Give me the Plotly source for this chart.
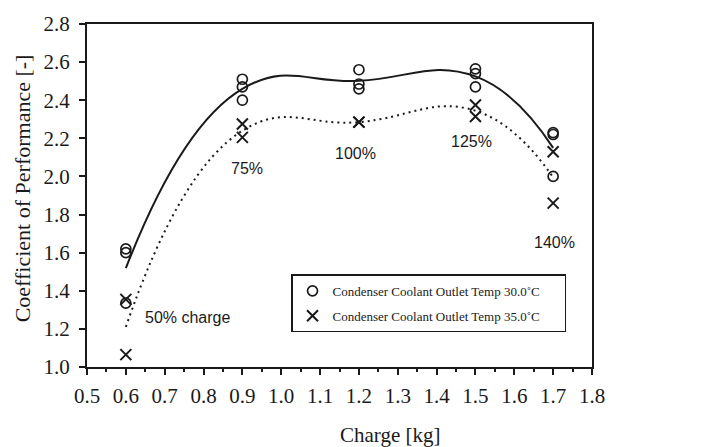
import plotly.graph_objects as go
import numpy as np

# Measured COP values per refrigerant charge, two condenser coolant outlet temperatures
charge_30 = [0.6, 0.6, 0.6, 0.9, 0.9, 0.9, 1.2, 1.2, 1.2, 1.5, 1.5, 1.5, 1.7, 1.7, 1.7]
cop_30 = [1.62, 1.60, 1.335, 2.51, 2.47, 2.40, 2.56, 2.485, 2.46, 2.565, 2.54, 2.47, 2.23, 2.22, 2.00]

charge_35 = [0.6, 0.6, 0.9, 0.9, 1.2, 1.2, 1.5, 1.5, 1.7, 1.7]
cop_35 = [1.355, 1.065, 2.275, 2.205, 2.285, 2.285, 2.375, 2.315, 2.13, 1.86]

name_30 = "Condenser Coolant Outlet Temp 30.0˚C"
name_35 = "Condenser Coolant Outlet Temp 35.0˚C"

charge_labels = ["50% charge", "75%", "100%", "125%", "140%"]

x_ticks = [0.5, 0.6, 0.7, 0.8, 0.9, 1.0, 1.1, 1.2, 1.3, 1.4, 1.5, 1.6, 1.7, 1.8]
y_ticks = [1.0, 1.2, 1.4, 1.6, 1.8, 2.0, 2.2, 2.4, 2.6, 2.8]


def mean_by_charge(xs, ys):
    """Average the repeated measurements at each charge level."""
    xs = np.asarray(xs)
    ys = np.asarray(ys)
    levels = np.unique(xs)
    return levels, np.array([ys[xs == lv].mean() for lv in levels])


mx30, my30 = mean_by_charge(charge_30, cop_30)
mx35, my35 = mean_by_charge(charge_35, cop_35)

INK = "#1a1a1a"
SERIF = "Liberation Serif, Times New Roman, serif"
SANS = "Liberation Sans, Arial, sans-serif"
PAD = "\u00a0" * 6  # breathing room at the right edge of the legend box

fig = go.Figure()

# smoothed trend lines through the mean at each charge
fig.add_trace(go.Scatter(
    x=mx30, y=my30, mode="lines", showlegend=False, hoverinfo="skip",
    line=dict(color=INK, width=2, shape="spline", smoothing=1.3),
))
fig.add_trace(go.Scatter(
    x=mx35, y=my35, mode="lines", showlegend=False, hoverinfo="skip",
    line=dict(color=INK, width=2, shape="spline", smoothing=1.3, dash="2px,4px"),
))

# individual measurements
fig.add_trace(go.Scatter(
    x=charge_30, y=cop_30, mode="markers", name=name_30 + PAD, legendgroup="t30",
    marker=dict(symbol="circle-open", size=10, color=INK, line=dict(width=1.7, color=INK)),
))
fig.add_trace(go.Scatter(
    x=charge_35, y=cop_35, mode="markers", name=name_35 + PAD, legendgroup="t35",
    marker=dict(symbol="x-thin-open", size=11, color=INK, line=dict(width=2, color=INK)),
))

label_pos = [(0.758, 1.26), (0.913, 2.044), (1.192, 2.121), (1.489, 2.184), (1.704, 1.654)]
for text, (lx, ly) in zip(charge_labels, label_pos):
    fig.add_annotation(x=lx, y=ly, text=text, showarrow=False,
                       font=dict(family=SANS, size=16, color=INK))

# axis titles
fig.add_annotation(xref="paper", yref="paper", x=0.6, y=-0.198, yanchor="middle",
                   text="Charge [kg]", showarrow=False,
                   font=dict(family=SERIF, size=21, color=INK))
fig.add_annotation(xref="paper", yref="paper", x=-0.126, y=0.522, xanchor="center",
                   yanchor="middle", textangle=-90,
                   text="Coefficient of Performance [-]", showarrow=False,
                   font=dict(family=SERIF, size=22, color=INK))

fig.update_xaxes(
    range=[0.5, 1.8], tickvals=x_ticks, ticktext=[f"{v:.1f}" for v in x_ticks],
    showgrid=False, zeroline=False, showline=True, linecolor=INK, linewidth=2,
    mirror=True, ticks="outside", ticklen=6, tickwidth=1.5, tickcolor=INK,
    ticklabelstandoff=3,
    minor=dict(ticks="outside", ticklen=3, tickwidth=1.5, tickcolor=INK, dtick=0.05,
               tick0=0.5, showgrid=False),
    tickfont=dict(family=SERIF, size=21, color=INK),
)
fig.update_yaxes(
    range=[1.0, 2.8], tickvals=y_ticks, ticktext=[f"{v:.1f}" for v in y_ticks],
    showgrid=False, zeroline=False, showline=True, linecolor=INK, linewidth=2,
    mirror=True, ticks="outside", ticklen=6, tickwidth=1.5, tickcolor=INK,
    ticklabelstandoff=5,
    tickfont=dict(family=SERIF, size=21, color=INK),
)

fig.update_layout(
    width=721, height=447,
    margin=dict(l=87, r=129, t=16, b=80),
    paper_bgcolor="white", plot_bgcolor="white",
    legend=dict(
        x=0.404, y=0.27, xanchor="left", yanchor="top",
        bordercolor=INK, borderwidth=1.5, bgcolor="white",
        font=dict(family=SERIF, size=13, color=INK),
        itemwidth=30, tracegroupgap=5,
    ),
)

fig.write_html("out.html")
